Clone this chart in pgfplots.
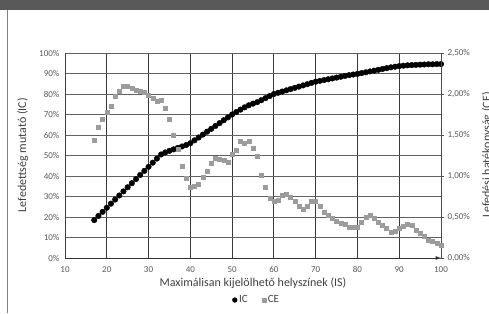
\documentclass[border=0pt]{standalone}
\usepackage{pgfplots}
\pgfplotsset{compat=1.18}
\usepackage{fontspec}
\setmainfont{Carlito}
\definecolor{band}{HTML}{595959}
\definecolor{cegray}{HTML}{9C9C9C}
\definecolor{ticktxt}{HTML}{595959}
\definecolor{labtxt}{HTML}{404040}
\begin{document}
\begin{tikzpicture}[x=1pt,y=1pt]
\useasboundingbox (0,0) rectangle (489,313);
\clip (0,0) rectangle (489,313);
\fill[white] (0,0) rectangle (489,313);
\fill[band] (0,303) rectangle (489,313);
\draw[gray, line width=1pt] (7.5,0) -- (7.5,303);
\begin{axis}[
  at={(65pt,55pt)}, anchor=south west,
  scale only axis, width=376pt, height=205pt,
  xmin=10, xmax=100, ymin=0, ymax=100,
  axis x line=bottom, axis y line=left,
  x axis line style={-latex, black!80, line width=0.9pt},
  y axis line style={-, black!75, line width=0.8pt},
  xtick={10,20,...,100},
  xticklabels={10,20,30,40,50,60,70,80,90,100},
  ytick={0,10,...,100},
  yticklabels={0\%,10\%,20\%,30\%,40\%,50\%,60\%,70\%,80\%,90\%,100\%},
  xtick style={draw=none},
  ytick style={draw=none},
  grid=major,
  x grid style={black!78, line width=0.9pt},
  y grid style={black!62, line width=0.9pt},
  ticklabel style={font=\fontsize{9}{10}\selectfont, text=ticktxt},
  xticklabel style={yshift=-3pt},
  xlabel={Maximálisan kijelölhető helyszínek (IS)},
  ylabel={Lefedettség mutató (IC)},
  label style={font=\fontsize{12}{14}\selectfont, text=labtxt},
  xlabel style={at={(axis description cs:0.5,-0.122)}, anchor=center},
  ylabel style={at={(axis description cs:-0.112,0.502)}, anchor=center, rotate=0},
  clip=false,
]
\addplot[only marks, mark=*, mark size=2.8pt, black] coordinates {
(17,18.5)(18,20.5)(19,22.5)(20,24.5)(21,26.5)(22,28.5)(23,30.5)(24,32.5)(25,34.5)(26,36.5)
(27,38.5)(28,40.5)(29,42.5)(30,44.5)(31,46.5)(32,48.5)(33,50.5)(34,51.5)(35,52.3)(36,53.0)
(37,53.7)(38,54.4)(39,55.1)(40,56.0)(41,57.4)(42,58.8)(43,60.2)(44,61.6)(45,63.0)(46,64.4)
(47,65.8)(48,67.2)(49,68.6)(50,70.0)(51,71.2)(52,72.4)(53,73.5)(54,74.5)(55,75.3)(56,76.0)
(57,77.0)(58,78.0)(59,79.0)(60,80.0)(61,80.6)(62,81.2)(63,81.8)(64,82.4)(65,83.0)(66,83.6)
(67,84.2)(68,84.8)(69,85.4)(70,86.0)(71,86.4)(72,86.8)(73,87.2)(74,87.6)(75,88.0)(76,88.4)
(77,88.8)(78,89.2)(79,89.5)(80,89.8)(81,90.2)(82,90.6)(83,91.0)(84,91.4)(85,91.8)(86,92.2)
(87,92.6)(88,93.0)(89,93.3)(90,93.6)(91,93.8)(92,94.0)(93,94.1)(94,94.2)(95,94.3)(96,94.4)
(97,94.5)(98,94.5)(99,94.6)(100,94.6)
};
\end{axis}
\begin{axis}[
  at={(65pt,55pt)}, anchor=south west,
  scale only axis, width=376pt, height=205pt,
  xmin=10, xmax=100, ymin=0, ymax=2.5,
  axis x line=none,
  axis y line*=right,
  y axis line style={-, black!70, line width=0.8pt},
  ytick={0,0.5,...,2.5},
  yticklabels={{0,00\%},{0,50\%},{1,00\%},{1,50\%},{2,00\%},{2,50\%}},
  tick align=outside, major tick length=3pt,
  ytick style={black!70, line width=0.8pt},
  ticklabel style={font=\fontsize{9}{10}\selectfont, text=ticktxt},
  legend style={at={(axis description cs:0.51,-0.205)}, anchor=center, draw=none, fill=none,
    legend columns=2, font=\fontsize{11}{12}\selectfont, text=labtxt,
    /tikz/every even column/.append style={column sep=12pt}},
  legend cell align=left,
  clip=false,
]
\addlegendimage{only marks, mark=*, mark size=2.4pt, black}
\addlegendentry{IC}
\addplot[only marks, mark=square*, mark size=2pt, cegray] coordinates {
(17,1.44)(18,1.60)(19,1.69)(20,1.78)(21,1.85)(22,1.97)(23,2.04)(24,2.09)(25,2.09)(26,2.07)
(27,2.05)(28,2.04)(29,2.02)(30,1.98)(31,1.95)(32,1.91)(33,1.93)(34,1.83)(35,1.69)(36,1.50)
(37,1.33)(38,1.12)(39,0.97)(40,0.86)(41,0.87)(42,0.90)(43,0.98)(44,1.06)(45,1.15)(46,1.22)
(47,1.20)(48,1.19)(49,1.17)(50,1.26)(51,1.31)(52,1.43)(53,1.40)(54,1.42)(55,1.34)(56,1.24)
(57,1.01)(58,0.86)(59,0.73)(60,0.69)(61,0.70)(62,0.77)(63,0.78)(64,0.74)(65,0.69)(66,0.63)
(67,0.59)(68,0.63)(69,0.69)(70,0.69)(71,0.63)(72,0.56)(73,0.52)(74,0.48)(75,0.45)(76,0.42)
(77,0.41)(78,0.38)(79,0.38)(80,0.38)(81,0.44)(82,0.50)(83,0.52)(84,0.48)(85,0.44)(86,0.40)
(87,0.36)(88,0.32)(89,0.33)(90,0.36)(91,0.39)(92,0.41)(93,0.40)(94,0.34)(95,0.30)(96,0.26)
(97,0.22)(98,0.20)(99,0.18)(100,0.16)
};
\addlegendentry{CE}
\end{axis}
\node[rotate=90, anchor=base, font=\fontsize{12}{14}\selectfont, text=labtxt] at (490.5,158) {Lefedési hatékonyság (CE)};
\end{tikzpicture}
\end{document}
